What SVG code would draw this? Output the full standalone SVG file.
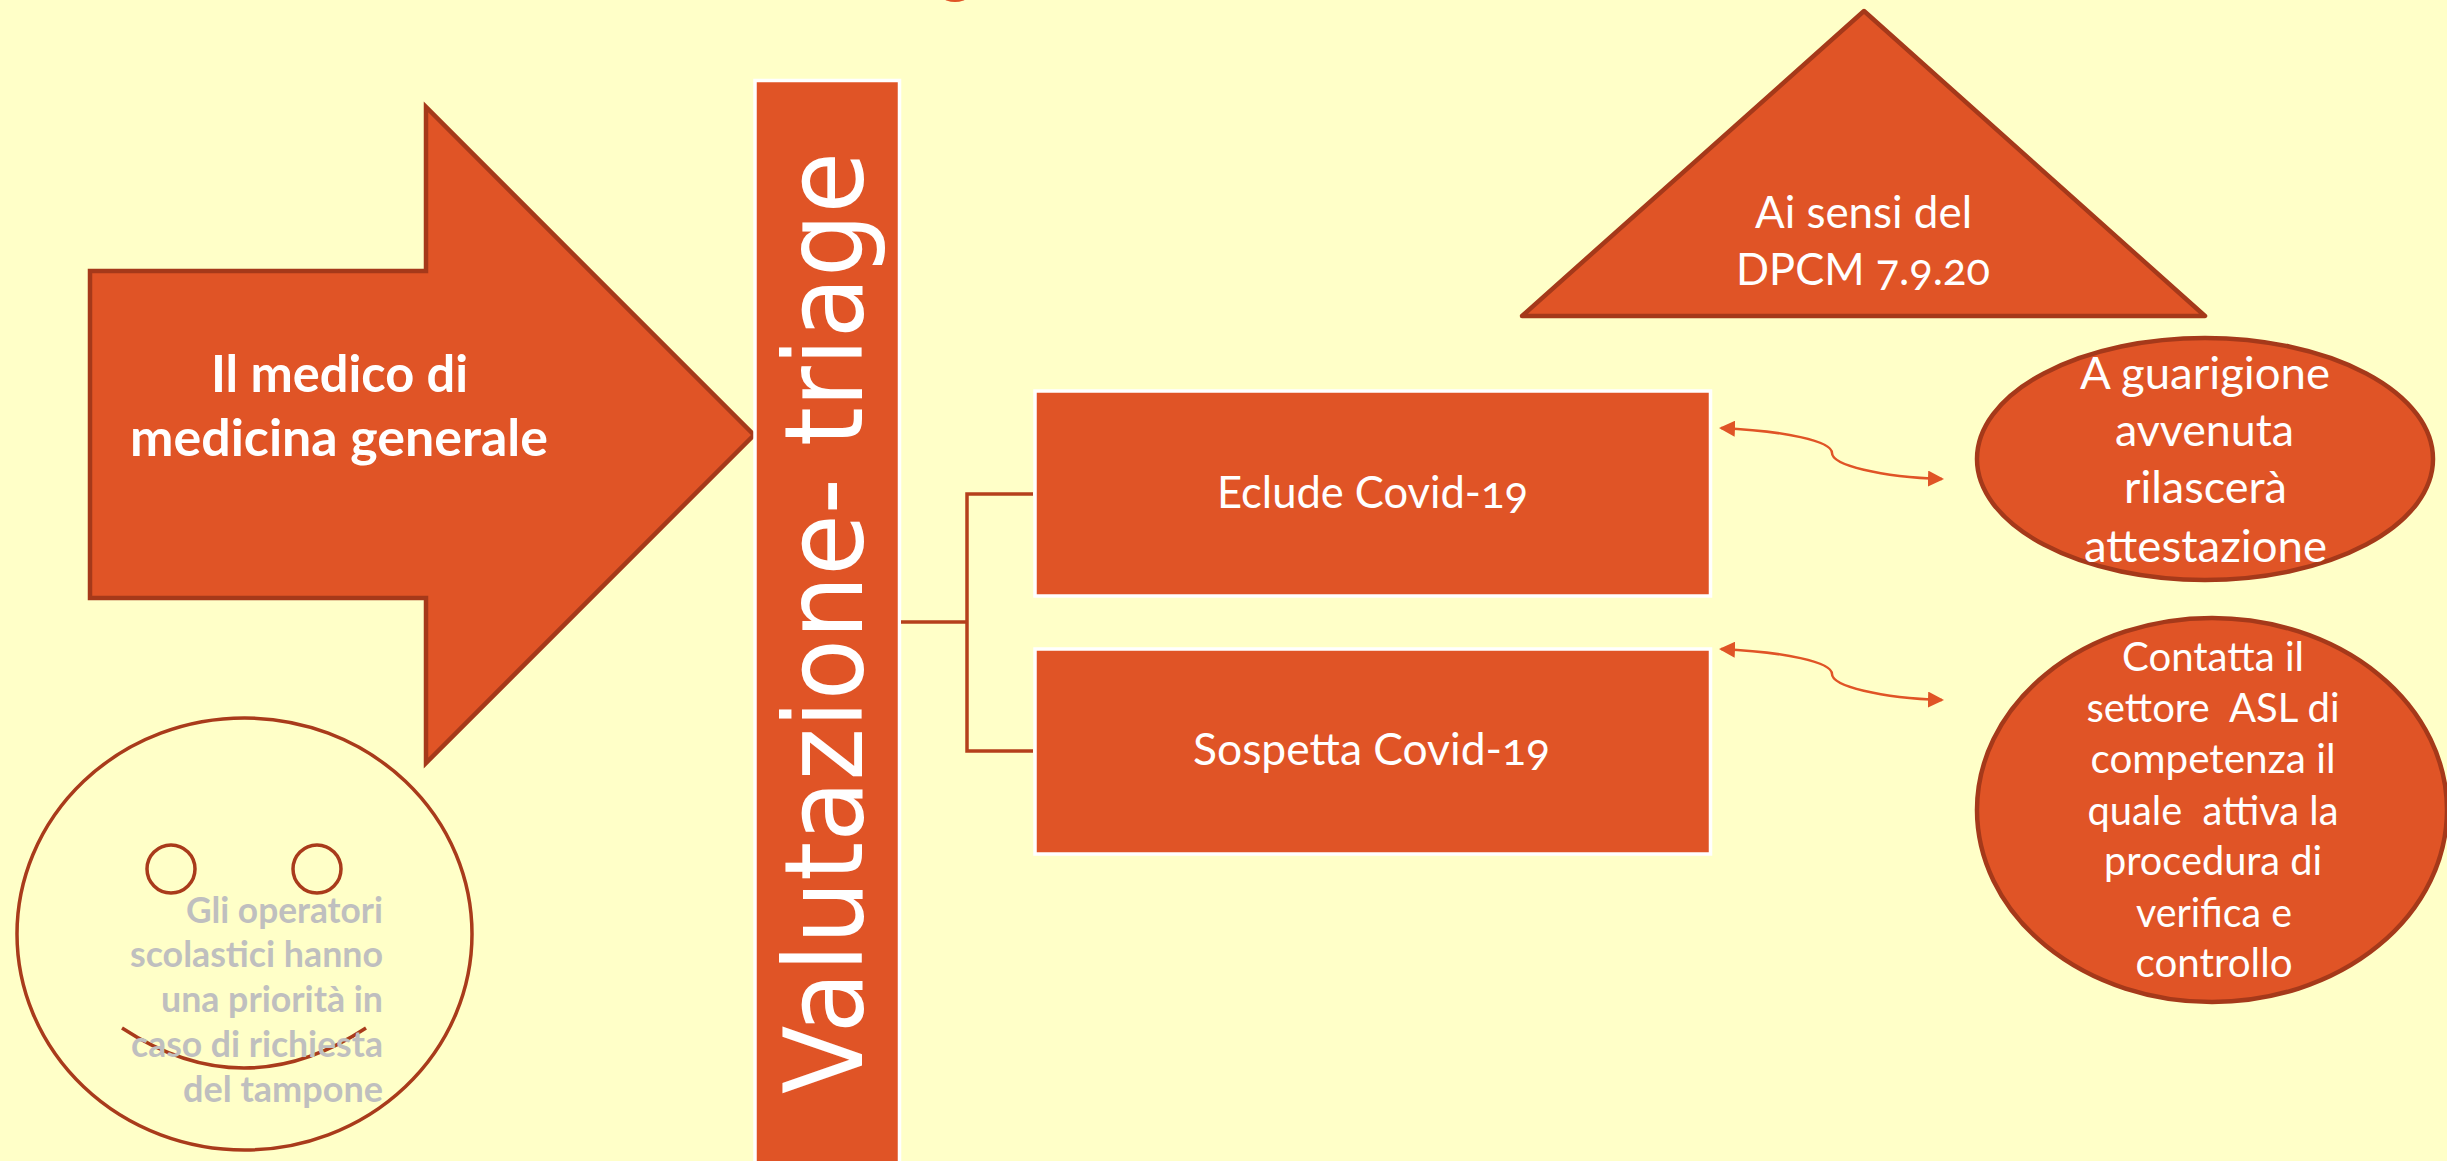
<svg xmlns="http://www.w3.org/2000/svg" width="2447" height="1161" viewBox="0 0 2447 1161">
<style>
.o{fill:#E05426;stroke:#A5391A;stroke-width:4.5}
.w{fill:#E05426;stroke:#FFFFFF;stroke-width:3.5}
.f{fill:none;stroke:#A93B1B;stroke-width:3.5}
text{font-family:"Lato","Open Sans","Liberation Sans",sans-serif;font-variant-numeric:oldstyle-nums;white-space:pre}
.t{fill:#FFFFFF;font-size:44px;text-anchor:middle}
.s{fill:#FFFFFF;font-size:40px;text-anchor:middle}
.b{fill:#FFFFFF;font-size:51px;font-weight:700;text-anchor:middle}
.g{fill:#BFBFBF;font-size:36px;font-weight:700;text-anchor:end}
.l{fill:none;stroke:#B5401C;stroke-width:3.5}
.c{fill:none;stroke:#E05426;stroke-width:2.5;marker-start:url(#h);marker-end:url(#h)}
</style>
<defs><marker id="h" markerUnits="userSpaceOnUse" markerWidth="16" markerHeight="16" refX="14" refY="8" orient="auto-start-reverse"><path d="M0,0L16,8L0,16Z" fill="#E05426"/></marker></defs>
<rect width="2447" height="1161" fill="#FFFFC8"/>
<ellipse id="top-mark" cx="955" cy="-2" rx="11" ry="4" fill="#E05426"/>
<g id="arrow-medico"><path class="o" d="M90,271H426V107L754,435L426,763V598H90Z"/>
<text class="b" x="339.500" y="392" textLength="257" lengthAdjust="spacingAndGlyphs">Il medico di</text><text class="b" x="339" y="456" textLength="418" lengthAdjust="spacingAndGlyphs">medicina generale</text></g>
<g id="valutazione"><rect class="w" x="755" y="80.500" width="144.500" height="1100"/>
<text transform="translate(862,1094) rotate(-90)" font-size="108" fill="#FFFFFF" style="font-family:'DejaVu Sans',sans-serif" textLength="942" lengthAdjust="spacingAndGlyphs">Valutazione- triage</text></g>
<g id="connectors">
<path class="l" d="M901,622H967M1033,494H967V751H1033"/>
<path class="c" d="M1721,428C1785,431 1832,441 1832,453C1832,465 1880,477 1942,479"/>
<path class="c" d="M1721,649C1785,652 1832,662 1832,674C1832,686 1880,698 1942,700"/>
</g>
<g id="eclude"><rect class="w" x="1035" y="391" width="675.500" height="205"/><text class="t" x="1372.500" y="508" textLength="311" lengthAdjust="spacingAndGlyphs">Eclude Covid-19</text></g>
<g id="sospetta"><rect class="w" x="1035" y="649" width="675.500" height="205"/><text class="t" x="1371.500" y="765" textLength="357" lengthAdjust="spacingAndGlyphs">Sospetta Covid-19</text></g>
<g id="triangle"><path class="o" d="M1864,11L2205,316H1522Z" stroke-linejoin="round"/>
<text class="t" x="1863.500" y="228" textLength="217" lengthAdjust="spacingAndGlyphs">Ai sensi del</text><text class="t" x="1863" y="285" textLength="254" lengthAdjust="spacingAndGlyphs">DPCM 7.9.20</text></g>
<g id="guarigione"><ellipse class="o" cx="2205" cy="459" rx="228" ry="121"/>
<text class="t" x="2205" y="389" textLength="250" lengthAdjust="spacingAndGlyphs">A guarigione</text><text class="t" x="2204.500" y="446" textLength="179" lengthAdjust="spacingAndGlyphs">avvenuta</text><text class="t" x="2205.500" y="503" textLength="163" lengthAdjust="spacingAndGlyphs">rilascerà</text><text class="t" x="2205.500" y="562" textLength="243" lengthAdjust="spacingAndGlyphs">attestazione</text></g>
<g id="contatta"><ellipse class="o" cx="2212" cy="810" rx="235" ry="192"/>
<text class="s" x="2213" y="671" textLength="182" lengthAdjust="spacingAndGlyphs">Contatta il</text><text class="s" x="2213" y="722" textLength="253" lengthAdjust="spacingAndGlyphs">settore  ASL di</text><text class="s" x="2213" y="773" textLength="245" lengthAdjust="spacingAndGlyphs">competenza il</text><text class="s" x="2213" y="825" textLength="251" lengthAdjust="spacingAndGlyphs">quale  attiva la</text><text class="s" x="2213" y="875" textLength="218" lengthAdjust="spacingAndGlyphs">procedura di</text><text class="s" x="2214" y="927" textLength="156" lengthAdjust="spacingAndGlyphs">verifica e</text><text class="s" x="2214" y="977" textLength="157" lengthAdjust="spacingAndGlyphs">controllo</text></g>
<g id="smiley"><ellipse class="f" cx="244.500" cy="934" rx="227.500" ry="216"/>
<circle class="f" cx="171" cy="869" r="24"/><circle class="f" cx="317" cy="869" r="24"/>
<path class="f" d="M122,1028Q244,1108 366,1028"/>
<text class="g" x="383" y="923" textLength="197" lengthAdjust="spacingAndGlyphs">Gli operatori</text><text class="g" x="383" y="967" textLength="253" lengthAdjust="spacingAndGlyphs">scolastici hanno</text><text class="g" x="383" y="1012" textLength="222" lengthAdjust="spacingAndGlyphs">una priorità in</text><text class="g" x="383" y="1057" textLength="252" lengthAdjust="spacingAndGlyphs">caso di richiesta</text><text class="g" x="383" y="1102" textLength="200" lengthAdjust="spacingAndGlyphs">del tampone</text></g>
</svg>
